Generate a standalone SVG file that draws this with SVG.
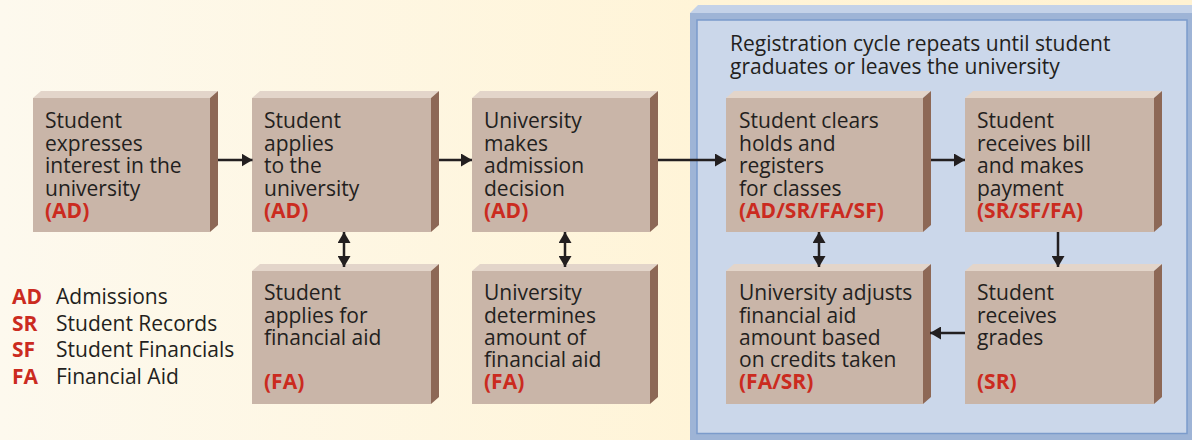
<svg xmlns="http://www.w3.org/2000/svg" width="1192" height="440" viewBox="0 0 1192 440">
<defs>
<linearGradient id="bg" x1="0" y1="0" x2="1" y2="0">
<stop offset="0" stop-color="#fdf9ee"/>
<stop offset="0.6" stop-color="#fff4d7"/>
<stop offset="1" stop-color="#fff2d2"/>
</linearGradient>
<marker id="ah" markerUnits="userSpaceOnUse" markerWidth="12" markerHeight="13" refX="11" refY="6.5" orient="auto-start-reverse" viewBox="0 0 12 13">
<path d="M0,0 L11,6.5 L0,13 z" fill="#231f20"/>
</marker>
<style>
.top{fill:#e3d5ca}
.side{fill:#8d6856}
.front{fill:#c9b5a8}
.t{font-family:"Open Sans","Noto Sans",sans-serif;font-size:21px;fill:#231f20}
.r{font-family:"Open Sans","Noto Sans",sans-serif;font-size:21px;font-weight:bold;fill:#cb2b1f}
.c{stroke:#231f20;stroke-width:2.5;fill:none}
</style>
</defs>
<rect x="0" y="0" width="1192" height="440" fill="url(#bg)"/>
<g id="panel">
<polygon points="690,13 698,5 1192,5 1192,13" fill="#c4d2e8"/>
<rect x="690" y="13" width="502" height="427" fill="#9eb4d6"/>
<rect x="697" y="20" width="490" height="413.5" fill="#cbd7ea" stroke="#7b9bcb" stroke-width="1.5"/>
<text class="t" x="730" y="51">Registration cycle repeats until student</text>
<text class="t" x="730" y="74">graduates or leaves the university</text>
</g>
<g id="legend">
<text class="r" x="12" y="304">AD</text><text class="t" x="56" y="304">Admissions</text>
<text class="r" x="12" y="331">SR</text><text class="t" x="56" y="331">Student Records</text>
<text class="r" x="12" y="357">SF</text><text class="t" x="56" y="357">Student Financials</text>
<text class="r" x="12" y="384">FA</text><text class="t" x="56" y="384">Financial Aid</text>
</g>
<g id="n1">
<polygon class="top" points="33,98 41,91 218,91 210,98"/>
<polygon class="side" points="210,98 218,91 218,225 210,232"/>
<rect class="front" x="33" y="98" width="177" height="134"/>
<text class="t" x="45" y="128">Student</text>
<text class="t" x="45" y="150.5">expresses</text>
<text class="t" x="45" y="173">interest in the</text>
<text class="t" x="45" y="195.5">university</text>
<text class="r" x="45" y="218">(AD)</text>
</g>
<g id="n2">
<polygon class="top" points="252,98 260,91 439,91 431,98"/>
<polygon class="side" points="431,98 439,91 439,225 431,232"/>
<rect class="front" x="252" y="98" width="179" height="134"/>
<text class="t" x="264" y="128">Student</text>
<text class="t" x="264" y="150.5">applies</text>
<text class="t" x="264" y="173">to the</text>
<text class="t" x="264" y="195.5">university</text>
<text class="r" x="264" y="218">(AD)</text>
</g>
<g id="n3">
<polygon class="top" points="472,98 480,91 658,91 650,98"/>
<polygon class="side" points="650,98 658,91 658,225 650,232"/>
<rect class="front" x="472" y="98" width="178" height="134"/>
<text class="t" x="484" y="128">University</text>
<text class="t" x="484" y="150.5">makes</text>
<text class="t" x="484" y="173">admission</text>
<text class="t" x="484" y="195.5">decision</text>
<text class="r" x="484" y="218">(AD)</text>
</g>
<g id="n4">
<polygon class="top" points="726,98 734,91 931,91 923,98"/>
<polygon class="side" points="923,98 931,91 931,225 923,232"/>
<rect class="front" x="726" y="98" width="197" height="134"/>
<text class="t" x="739" y="128">Student clears</text>
<text class="t" x="739" y="150.5">holds and</text>
<text class="t" x="739" y="173">registers</text>
<text class="t" x="739" y="195.5">for classes</text>
<text class="r" x="739" y="218">(AD/SR/FA/SF)</text>
</g>
<g id="n5">
<polygon class="top" points="965,98 973,91 1162,91 1154,98"/>
<polygon class="side" points="1154,98 1162,91 1162,225 1154,232"/>
<rect class="front" x="965" y="98" width="189" height="134"/>
<text class="t" x="977" y="128">Student</text>
<text class="t" x="977" y="150.5">receives bill</text>
<text class="t" x="977" y="173">and makes</text>
<text class="t" x="977" y="195.5">payment</text>
<text class="r" x="977" y="218">(SR/SF/FA)</text>
</g>
<g id="n6">
<polygon class="top" points="252,271 260,264 439,264 431,271"/>
<polygon class="side" points="431,271 439,264 439,397 431,404"/>
<rect class="front" x="252" y="271" width="179" height="133"/>
<text class="t" x="264" y="300">Student</text>
<text class="t" x="264" y="322.5">applies for</text>
<text class="t" x="264" y="345">financial aid</text>
<text class="r" x="264" y="389">(FA)</text>
</g>
<g id="n7">
<polygon class="top" points="472,271 480,264 658,264 650,271"/>
<polygon class="side" points="650,271 658,264 658,397 650,404"/>
<rect class="front" x="472" y="271" width="178" height="133"/>
<text class="t" x="484" y="300">University</text>
<text class="t" x="484" y="322.5">determines</text>
<text class="t" x="484" y="345">amount of</text>
<text class="t" x="484" y="367">financial aid</text>
<text class="r" x="484" y="389">(FA)</text>
</g>
<g id="n8">
<polygon class="top" points="726,271 734,264 931,264 923,271"/>
<polygon class="side" points="923,271 931,264 931,397 923,404"/>
<rect class="front" x="726" y="271" width="197" height="133"/>
<text class="t" x="739" y="300">University adjusts</text>
<text class="t" x="739" y="322.5">financial aid</text>
<text class="t" x="739" y="345">amount based</text>
<text class="t" x="739" y="367">on credits taken</text>
<text class="r" x="739" y="389">(FA/SR)</text>
</g>
<g id="n9">
<polygon class="top" points="965,271 973,264 1162,264 1154,271"/>
<polygon class="side" points="1154,271 1162,264 1162,397 1154,404"/>
<rect class="front" x="965" y="271" width="189" height="133"/>
<text class="t" x="977" y="300">Student</text>
<text class="t" x="977" y="322.5">receives</text>
<text class="t" x="977" y="345">grades</text>
<text class="r" x="977" y="389">(SR)</text>
</g>
<g id="connectors">
<path class="c" d="M218,160 H252.5" marker-end="url(#ah)"/>
<path class="c" d="M439,160 H472" marker-end="url(#ah)"/>
<path class="c" d="M658,160 H726" marker-end="url(#ah)"/>
<path class="c" d="M931,160 H965" marker-end="url(#ah)"/>
<path class="c" d="M1058,232 V267" marker-end="url(#ah)"/>
<path class="c" d="M965,333 H930" marker-end="url(#ah)"/>
<path class="c" d="M344,232 V267" marker-start="url(#ah)" marker-end="url(#ah)"/>
<path class="c" d="M565,232 V267" marker-start="url(#ah)" marker-end="url(#ah)"/>
<path class="c" d="M819,232 V267" marker-start="url(#ah)" marker-end="url(#ah)"/>
</g>
</svg>
